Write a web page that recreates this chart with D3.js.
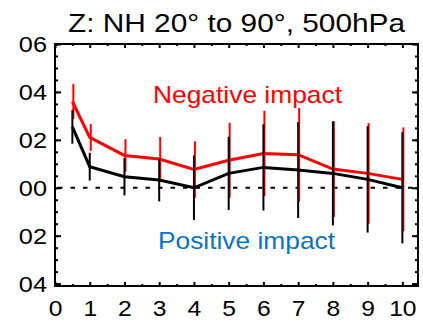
<!DOCTYPE html>
<html>
<head>
<meta charset="utf-8">
<script src="https://cdn.jsdelivr.net/npm/d3@7"></script>
<style>
  body { margin: 0; background: #fff; }
  svg text { font-family: "Liberation Sans", Arial, Helvetica, sans-serif; }
</style>
</head>
<body>
<svg id="chart" width="423" height="331"></svg>
<script>
// forecast hour (x) and the two series with their error bars
var leadTimes = [0.5, 1, 2, 3, 4, 5, 6, 7, 8, 9, 10];
var redMean   = [0.36, 0.21, 0.135, 0.12, 0.076, 0.115, 0.143, 0.138, 0.078, 0.06, 0.035];
var redErr    = [0.073, 0.056, 0.068, 0.092, 0.118, 0.156, 0.178, 0.195, 0.2, 0.21, 0.217];
var blackMean = [0.254, 0.088, 0.046, 0.032, 0.0, 0.06, 0.085, 0.074, 0.06, 0.035, 0.0];
var blackErr  = [0.07, 0.058, 0.078, 0.089, 0.135, 0.153, 0.18, 0.2, 0.217, 0.222, 0.232];

var xTicks = [0, 1, 2, 3, 4, 5, 6, 7, 8, 9, 10];
var yTicks = [0.6, 0.4, 0.2, 0, -0.2, -0.4];
var yTickLabels = ["06", "04", "02", "00", "02", "04"];

var titleText = "Z: NH 20\u00b0 to 90\u00b0, 500hPa";
var negLabel = "Negative impact";
var posLabel = "Positive impact";

(function() {
  var left = 55, right = 418, top = 44, bottom = 286;
  var svg = d3.select("#chart");

  var x = d3.scaleLinear().domain([0, 10.45]).range([left, right]);
  var y = d3.scaleLinear().domain([-0.41, 0.6]).range([bottom, top]);

  // the original text is a bit wider than Liberation Sans
  function stretch(sel, k) {
    sel.each(function() {
      var w = this.getComputedTextLength();
      d3.select(this).attr("textLength", w * k).attr("lengthAdjust", "spacingAndGlyphs");
    });
  }

  // title
  svg.append("text")
    .attr("x", 236.5).attr("y", 32)
    .attr("text-anchor", "middle")
    .attr("font-size", 26)
    .attr("textLength", 337).attr("lengthAdjust", "spacingAndGlyphs")
    .text(titleText);

  // zero line
  svg.append("line")
    .attr("x1", left + 3).attr("x2", right)
    .attr("y1", y(0)).attr("y2", y(0))
    .attr("stroke", "#000").attr("stroke-width", 2)
    .attr("stroke-dasharray", "4.5,8");

  // minor ticks every 0.05 / 0.5
  var yMinor = d3.range(-0.4, 0.6001, 0.05);
  var xMinor = d3.range(0.5, 10.5, 1);

  function styleAxis(g) {
    g.select(".domain").remove();
    g.selectAll(".tick line").attr("stroke", "#000").attr("stroke-width", 2);
    g.selectAll("text").attr("font-size", 22).attr("fill", "#000");
  }

  svg.append("g").attr("transform", "translate(" + left + ",0)")
    .call(d3.axisLeft(y).tickValues(yMinor).tickSize(-3).tickFormat(""))
    .call(styleAxis);
  svg.append("g").attr("transform", "translate(" + right + ",0)")
    .call(d3.axisRight(y).tickValues(yMinor).tickSize(-3).tickFormat(""))
    .call(styleAxis);
  svg.append("g").attr("transform", "translate(0," + bottom + ")")
    .call(d3.axisBottom(x).tickValues(xMinor).tickSize(-2).tickFormat(""))
    .call(styleAxis);
  svg.append("g").attr("transform", "translate(0," + top + ")")
    .call(d3.axisTop(x).tickValues(xMinor).tickSize(-2).tickFormat(""))
    .call(styleAxis);

  // major ticks + labels
  svg.append("g").attr("transform", "translate(" + left + ",0)")
    .call(d3.axisLeft(y).tickValues(yTicks).tickSize(-6).tickPadding(8)
      .tickFormat(function(d, i) { return yTickLabels[i]; }))
    .call(styleAxis)
    .selectAll("text")
      .attr("dy", "0.36em")
      .call(stretch, 1.15);
  svg.append("g").attr("transform", "translate(" + right + ",0)")
    .call(d3.axisRight(y).tickValues(yTicks).tickSize(-6).tickFormat(""))
    .call(styleAxis);
  svg.append("g").attr("transform", "translate(0," + bottom + ")")
    .call(d3.axisBottom(x).tickValues(xTicks).tickSize(-4).tickPadding(14)
      .tickFormat(d3.format("d")))
    .call(styleAxis)
    .selectAll("text")
      .call(stretch, 1.12);
  svg.append("g").attr("transform", "translate(0," + top + ")")
    .call(d3.axisTop(x).tickValues(xTicks).tickSize(-4).tickFormat(""))
    .call(styleAxis);

  // frame
  svg.append("rect")
    .attr("x", left).attr("y", top)
    .attr("width", right - left).attr("height", bottom - top)
    .attr("fill", "none").attr("stroke", "#000").attr("stroke-width", 2);

  function series(mean, err, color, shift) {
    var pts = leadTimes.map(function(t, i) { return { t: t, m: mean[i], e: err[i] }; });
    var g = svg.append("g");
    g.selectAll("line")
      .data(pts)
      .join("line")
        .attr("x1", function(d) { return x(d.t) + shift; })
        .attr("x2", function(d) { return x(d.t) + shift; })
        .attr("y1", function(d) { return y(d.m + d.e); })
        .attr("y2", function(d) { return y(d.m - d.e); })
        .attr("stroke", color).attr("stroke-width", 2);
    g.append("path")
      .datum(pts)
      .attr("d", d3.line().x(function(d) { return x(d.t); }).y(function(d) { return y(d.m); }))
      .attr("fill", "none").attr("stroke", color).attr("stroke-width", 3)
      .attr("stroke-linejoin", "miter");
  }

  series(redMean, redErr, "#ff0000", 1);
  series(blackMean, blackErr, "#000000", 0);

  svg.append("text")
    .attr("x", 153).attr("y", 103)
    .attr("font-size", 24).attr("fill", "#ff0000")
    .attr("textLength", 189).attr("lengthAdjust", "spacingAndGlyphs")
    .text(negLabel);
  svg.append("text")
    .attr("x", 158).attr("y", 249)
    .attr("font-size", 24).attr("fill", "#0a72c4")
    .attr("textLength", 177).attr("lengthAdjust", "spacingAndGlyphs")
    .text(posLabel);
})();
</script>
</body>
</html>
